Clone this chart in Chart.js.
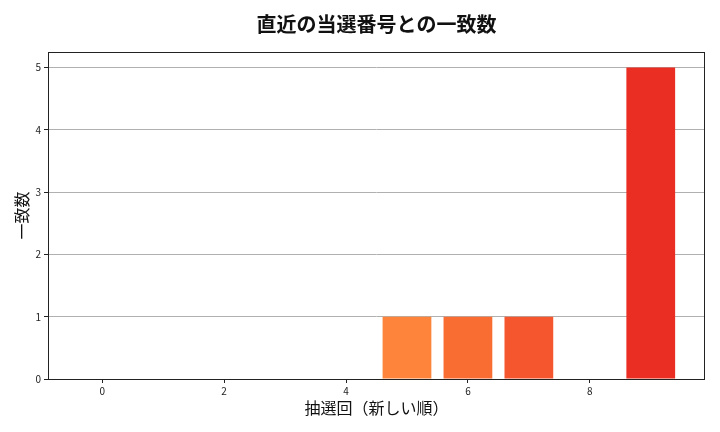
<!DOCTYPE html>
<html>
<head>
<meta charset="utf-8">
<script src="https://cdn.jsdelivr.net/npm/chart.js@4/dist/chart.umd.min.js"></script>
<style>
  html, body { margin: 0; padding: 0; background: #fff; }
  #wrap { width: 720px; height: 432px; }
</style>
</head>
<body>
<div id="wrap"><canvas id="chart"></canvas></div>
<script>
// data
const drawIndex = [0, 1, 2, 3, 4, 5, 6, 7, 8, 9];
const matchCount = [0, 0, 0, 0, 0, 1, 1, 1, 0, 5];
const xTicks = [0, 2, 4, 6, 8];
const yTicks = [0, 1, 2, 3, 4, 5];
const chartTitle = '直近の当選番号との一致数';

const barColors = ['#fee5d9', '#fdd0a2', '#fdae6b', '#fd9650', '#fd8d3c',
                   '#fd843a', '#f96d32', '#f5562e', '#f0402a', '#ea2e23'];

const font = "'Noto Sans CJK JP', 'Noto Sans', sans-serif";

// frame round the plot area, like matplotlib spines, and the title centred over the axes
const frame = {
    id: 'frame',
    afterDraw(chart) {
        const a = chart.chartArea;
        const ctx = chart.ctx;
        ctx.save();
        ctx.strokeStyle = '#222';
        ctx.lineWidth = 1;
        ctx.strokeRect(a.left + 0.5, a.top + 0.5, a.right - a.left - 1, a.bottom - a.top);
        ctx.fillStyle = '#111';
        ctx.font = 'bold 20px ' + font;
        ctx.textAlign = 'center';
        ctx.textBaseline = 'middle';
        ctx.fillText(chartTitle, (a.left + a.right) / 2, 24);
        ctx.restore();
    }
};

new Chart(document.getElementById('chart'), {
    type: 'bar',
    data: {
        datasets: [{
            data: drawIndex.map((x, i) => ({x: x, y: matchCount[i]})),
            backgroundColor: barColors,
            borderWidth: 0,
            categoryPercentage: 0.8,
            barPercentage: 1
        }]
    },
    options: {
        responsive: true,
        maintainAspectRatio: false,
        animation: false,
        layout: { padding: { top: 52, right: 15, bottom: 0, left: 0 } },
        plugins: {
            legend: { display: false },
            tooltip: { enabled: false },
            title: { display: false }
        },
        scales: {
            x: {
                type: 'linear',
                offset: false,
                min: -0.89,
                max: 9.89,
                afterBuildTicks: s => { s.ticks = xTicks.map(v => ({value: v})); },
                afterFit: s => { s.height = 53; },
                grid: { display: true, offset: false, drawOnChartArea: false, tickLength: 4, tickColor: '#222' },
                border: { display: false },
                ticks: { color: '#222', font: { family: font, size: 10 }, padding: 2, maxRotation: 0 },
                title: {
                    display: true,
                    text: '抽選回（新しい順）',
                    color: '#111',
                    font: { family: font, size: 16 },
                    padding: { top: 0, bottom: 14 }
                }
            },
            y: {
                min: 0,
                max: 5.25,
                afterBuildTicks: s => { s.ticks = yTicks.map(v => ({value: v})); },
                afterFit: s => { s.width = 48; },
                grid: { color: '#b0b0b0', tickLength: 4, tickColor: '#222', lineWidth: 1 },
                border: { display: false },
                ticks: { color: '#222', font: { family: font, size: 10 }, padding: 3 },
                title: {
                    display: true,
                    text: '一致数',
                    color: '#111',
                    font: { family: font, size: 16 },
                    padding: { top: 12, bottom: 0 }
                }
            }
        }
    },
    plugins: [frame]
});
</script>
</body>
</html>
